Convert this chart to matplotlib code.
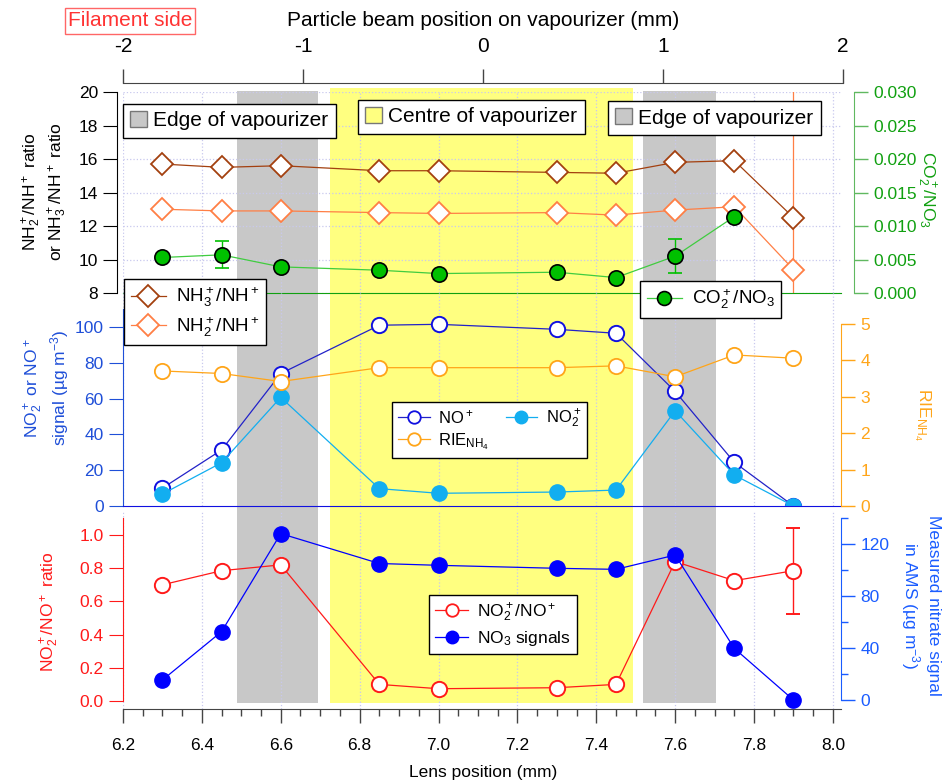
import numpy as np
import matplotlib
matplotlib.use('Agg')
import matplotlib.pyplot as plt
from matplotlib.lines import Line2D
from matplotlib.patches import Patch
from matplotlib.ticker import MultipleLocator

plt.rcParams['font.family'] = ['Liberation Sans', 'DejaVu Sans']
plt.rcParams['mathtext.fontset'] = 'custom'
plt.rcParams['mathtext.rm'] = 'Liberation Sans'
plt.rcParams['mathtext.it'] = 'Liberation Sans:italic'
plt.rcParams['mathtext.bf'] = 'Liberation Sans:bold'
plt.rcParams['axes.unicode_minus'] = False

# lens positions (mm)
lens_pos = [6.3, 6.45, 6.6, 6.85, 7.0, 7.3, 7.45, 7.6, 7.75, 7.9]

# top panel: ammonium fragment ratios and CO2+/NO3
nh3_ratio = [15.7, 15.5, 15.6, 15.3, 15.3, 15.2, 15.15, 15.8, 15.9, 12.5]
nh3_err = [0.2, 0, 0, 0, 0, 0, 0, 0, 0.2, 0]
nh2_ratio = [13.0, 12.9, 12.9, 12.8, 12.75, 12.8, 12.65, 12.95, 13.15, 9.4]
nh2_err = [0.3, 0, 0, 0, 0, 0, 0, 0, 0, 15]
co2_ratio = [0.0053, 0.0057, 0.0039, 0.0034, 0.0029, 0.0031, 0.0023, 0.0055, 0.0114, np.nan]
co2_err = [0, 0.002, 0, 0, 0, 0, 0, 0.0025, 0, 0]

# middle panel: NO+ / NO2+ signals and RIE of ammonium
no_signal = [10, 31.3, 74, 101, 101.5, 98.7, 96.5, 64, 24.4, 0]
no2_signal = [6.7, 24.2, 60.7, 9.7, 7.1, 7.8, 8.9, 53.2, 17.3, 0]
rie_nh4 = [3.71, 3.64, 3.42, 3.80, 3.80, 3.80, 3.85, 3.55, 4.15, 4.06]

# bottom panel: NO2+/NO+ ratio and total nitrate
no2_no_ratio = [0.70, 0.785, 0.82, 0.10, 0.074, 0.08, 0.10, 0.84, 0.725, 0.785]
no2_no_err = [0, 0, 0, 0, 0, 0, 0, 0, 0, 0.26]
no3_signal = [15.4, 52.6, 128, 105, 103.6, 101.3, 100.5, 111.5, 39.7, 0]

# vapourizer zones in lens position (mm)
edge_left = (6.49, 6.695)
centre = (6.725, 7.493)
edge_right = (7.518, 7.703)

beam_ticks = [-2, -1, 0, 1, 2]

W, H = 943, 784
def fx(x):
    return x / W
def fy(y):
    return 1 - y / H

X0, X1 = 123, 841
xlim = (6.2, 6.2 + (X1 - X0) / 394.4)
aw = (X1 - X0) / W

GRAY = '#c8c8c8'
YELLOW = '#ffff80'
GRID = '#c8c8ee'
BROWN = '#a3400f'
SALMON = '#ff7f45'
GREEN_FILL = '#00c000'
GREEN_LINE = '#40cc40'
GREEN_AX = '#10a010'
NO_BLUE = '#1010e0'
CYAN = '#12aef0'
RIE_OR = '#ffa519'
RED = '#ff1a1a'
NO3_BLUE = '#0000ff'
MID_BLUE = '#1f4fd8'
RIGHT_BLUE = '#1a5cff'

FS = 12.5

fig = plt.figure(figsize=(W / 100, H / 100), dpi=100)

# shaded zones behind all panels
bg = fig.add_axes([fx(X0), fy(703), aw, (703 - 88) / H])
bg.set_xlim(xlim)
bg.set_ylim(0, 1)
bg.axis('off')
bg.axvspan(*centre, color=YELLOW, lw=0)
bg.axvspan(*edge_left, ymax=(703 - 91) / (703 - 88), color=GRAY, lw=0)
bg.axvspan(*edge_right, ymax=(703 - 91) / (703 - 88), color=GRAY, lw=0)


def base_axes(rect):
    ax = fig.add_axes(rect)
    ax.patch.set_visible(False)
    ax.set_xlim(xlim)
    ax.xaxis.set_major_locator(MultipleLocator(0.2))
    ax.xaxis.set_minor_locator(MultipleLocator(0.05))
    ax.grid(axis='x', which='major', color=GRID, ls=':', lw=0.9)
    ax.spines['top'].set_visible(False)
    ax.spines['right'].set_visible(False)
    return ax


def twin_right(ax, color, outward=0):
    tw = ax.twinx()
    tw.set_xlim(xlim)
    for s in ['top', 'left', 'bottom']:
        tw.spines[s].set_visible(False)
    tw.spines['right'].set_color(color)
    tw.spines['right'].set_position(('outward', outward))
    tw.tick_params(axis='y', which='major', colors=color, length=10, width=1,
                   labelsize=FS, pad=4)
    tw.tick_params(axis='y', which='minor', colors=color, length=5, width=1)
    return tw


# ---- top panel ----
ax1 = base_axes([fx(X0), fy(293), aw, (293 - 92) / H])
ax1.set_ylim(8, 20)
ax1.yaxis.set_major_locator(MultipleLocator(2))
ax1.grid(axis='y', color=GRID, ls=':', lw=0.9)
ax1.tick_params(axis='x', which='both', bottom=False, labelbottom=False)
ax1.tick_params(axis='y', length=10, labelsize=FS, pad=4)
ax1.spines['left'].set_position(('outward', 4))
ax1.spines['bottom'].set_color('#10a010')
ax1.errorbar(lens_pos, nh3_ratio, yerr=nh3_err, color=BROWN, lw=0.9, marker='D',
             ms=11, mfc='white', mec=BROWN, mew=1.3, capsize=4, elinewidth=0.9)
ax1.errorbar(lens_pos, nh2_ratio, yerr=nh2_err, color=SALMON, lw=0.9, marker='D',
             ms=11, mfc='white', mec=SALMON, mew=1.3, capsize=4, elinewidth=0.9)

ax1r = twin_right(ax1, GREEN_AX, outward=9)
ax1r.spines['right'].set_color('#60b860')
ax1r.set_ylim(0, 0.030)
ax1r.yaxis.set_major_locator(MultipleLocator(0.005))
ax1r.yaxis.set_major_formatter(matplotlib.ticker.FormatStrFormatter('%.3f'))
ax1r.tick_params(axis='y', color='#60b860')
ax1r.errorbar(lens_pos, co2_ratio, yerr=co2_err, color=GREEN_LINE, lw=0.9,
              marker='o', ms=11, mfc=GREEN_FILL, mec='black', mew=1.2,
              ecolor=GREEN_FILL, capsize=5, elinewidth=1)

# ---- middle panel ----
ax2 = base_axes([fx(X0), fy(506), aw, (506 - 293) / H])
ax2.set_ylim(0, 213 / 1.79)
ax2.set_yticks([0, 20, 40, 60, 80, 100])
ax2.spines['left'].set_bounds(0, 110)
ax2.spines['left'].set_color(MID_BLUE)
ax2.spines['bottom'].set_color(NO_BLUE)
ax2.tick_params(axis='x', which='both', bottom=False, labelbottom=False)
ax2.tick_params(axis='y', length=10, labelsize=FS, pad=4, colors=MID_BLUE)
ax2.plot(lens_pos, no_signal, color='#2222c8', lw=0.9, marker='o', ms=11,
         mfc='white', mec=NO_BLUE, mew=1.4)
ax2.plot(lens_pos, no2_signal, color=CYAN, lw=0.9, marker='o', ms=11,
         mfc=CYAN, mec=CYAN, mew=1)

ax2r = twin_right(ax2, RIE_OR)
ax2r.set_ylim(0, 213 / 36.4)
ax2r.set_yticks([0, 1, 2, 3, 4, 5])
ax2r.spines['right'].set_bounds(0, 5)
ax2r.plot(lens_pos, rie_nh4, color=RIE_OR, lw=0.9, marker='o', ms=11,
          mfc='white', mec=RIE_OR, mew=1.3)

# ---- bottom panel ----
ax3 = base_axes([fx(X0), fy(709), aw, (709 - 512) / H])
ax3.set_ylim(-8 / 166, 189 / 166)
ax3.set_yticks([0.0, 0.2, 0.4, 0.6, 0.8, 1.0])
ax3.yaxis.set_major_formatter(matplotlib.ticker.FormatStrFormatter('%.1f'))
ax3.spines['left'].set_bounds(0, 1.1)
ax3.spines['left'].set_color(RED)
ax3.tick_params(axis='y', length=10, labelsize=FS, pad=4, colors=RED)
ax3.tick_params(axis='x', which='major', length=10, width=1, labelsize=FS, pad=11,
                color='#444444')
ax3.tick_params(axis='x', which='minor', length=5, width=1, color='#444444')
ax3.spines['bottom'].set_color('#444444')
ax3.xaxis.set_major_formatter(matplotlib.ticker.FormatStrFormatter('%.1f'))
ax3.errorbar(lens_pos, no2_no_ratio, yerr=no2_no_err, color=RED, lw=0.9,
             marker='o', ms=11, mfc='white', mec=RED, mew=1.4, capsize=5,
             elinewidth=1)

ax3r = twin_right(ax3, RIGHT_BLUE)
ax3r.set_ylim(-9 / 1.3, 188 / 1.3)
ax3r.set_yticks([0, 40, 80, 120])
ax3r.yaxis.set_minor_locator(MultipleLocator(20))
ax3r.spines['right'].set_bounds(0, 140)
ax3r.plot(lens_pos, no3_signal, color=NO3_BLUE, lw=0.9, marker='o', ms=11,
          mfc=NO3_BLUE, mec=NO3_BLUE)

fig.text(fx(483), fy(773), 'Lens position (mm)', fontsize=FS,
         ha='center', va='center')

# ---- top beam position axis ----
axt = fig.add_axes([fx(123), fy(83), (843 - 123) / W, 0.0005])
axt.patch.set_visible(False)
axt.set_xlim(-2, 2)
axt.set_xticks(beam_ticks)
axt.set_yticks([])
for s in ['top', 'left', 'right']:
    axt.spines[s].set_visible(False)
axt.spines['bottom'].set_color('#444444')
axt.tick_params(axis='x', bottom=True, top=False, direction='in', length=10,
                width=1, color='#444444', labelbottom=False, labeltop=True,
                labelsize=15, pad=19)
fig.text(fx(483), fy(20), 'Particle beam position on vapourizer (mm)',
         fontsize=15, ha='center', va='center')
fig.text(fx(130), fy(21), 'Filament side', fontsize=15, color='#ff3333',
         ha='center', va='center',
         bbox=dict(boxstyle='square,pad=0.15', fc='white', ec='#ff6666', lw=1))

# ---- axis titles ----
fig.text(fx(45), fy(192), 'NH$_2^+$/NH$^+$ ratio\nor NH$_3^+$/NH$^+$ ratio',
         rotation=90, fontsize=FS, ha='center', va='center', multialignment='center')
fig.text(fx(47), fy(388), 'NO$_2^+$ or NO$^+$\nsignal (µg m$^{-3}$)',
         rotation=90, fontsize=FS, ha='center', va='center', color=MID_BLUE,
         multialignment='center')
fig.text(fx(50), fy(612), 'NO$_2^+$/NO$^+$ ratio', rotation=90, fontsize=FS,
         ha='center', va='center', color=RED)
fig.text(fx(926), fy(190), 'CO$_2^+$/NO$_3$', rotation=-90, fontsize=FS,
         ha='center', va='center', color=GREEN_AX)
fig.text(fx(922), fy(415), 'RIE$_{\\mathrm{NH_4}}$', rotation=-90, fontsize=FS,
         ha='center', va='center', color=RIE_OR)
fig.text(fx(920), fy(605), 'Measured nitrate signal\nin AMS (µg m$^{-3}$)',
         rotation=-90, fontsize=FS, ha='center', va='center', color=RIGHT_BLUE,
         multialignment='center')

# ---- legends ----
def legend(handles, labels, anchor, fs, **kw):
    opts = dict(loc='upper left', bbox_to_anchor=(fx(anchor[0]), fy(anchor[1])),
                bbox_transform=fig.transFigure, fontsize=fs, frameon=True,
                fancybox=False, framealpha=1, edgecolor='black',
                borderaxespad=0, borderpad=0.35, handletextpad=0.5,
                labelspacing=0.3, handlelength=1.9)
    opts.update(kw)
    leg = fig.legend(handles, labels, **opts)
    leg.get_frame().set_linewidth(1)
    return leg

zone_kw = dict(handlelength=0.8, handleheight=0.8, handletextpad=0.3)
legend([Patch(fc=GRAY, ec='#777777')], ['Edge of vapourizer'], (123, 104), 15, **zone_kw)
legend([Patch(fc=YELLOW, ec='#777777')], ['Centre of vapourizer'], (358, 100), 15, **zone_kw)
legend([Patch(fc=GRAY, ec='#777777')], ['Edge of vapourizer'], (608, 101), 15, **zone_kw)

legend([Line2D([], [], color=BROWN, lw=0.9, marker='D', ms=11, mfc='white', mec=BROWN, mew=1.3),
        Line2D([], [], color=SALMON, lw=0.9, marker='D', ms=11, mfc='white', mec=SALMON, mew=1.3)],
       ['NH$_3^+$/NH$^+$', 'NH$_2^+$/NH$^+$'], (124, 279), 13.5)
legend([Line2D([], [], color=GREEN_LINE, lw=0.9, marker='o', ms=10, mfc=GREEN_FILL, mec='black', mew=1.2)],
       ['CO$_2^+$/NO$_3$'], (640, 281), 13.5)
legend([Line2D([], [], color='#2222c8', lw=0.9, marker='o', ms=9, mfc='white', mec=NO_BLUE, mew=1.3),
        Line2D([], [], color=RIE_OR, lw=0.9, marker='o', ms=9, mfc='white', mec=RIE_OR, mew=1.3),
        Line2D([], [], color=CYAN, lw=0.9, marker='o', ms=9, mfc=CYAN, mec=CYAN)],
       ['NO$^+$', 'RIE$_{\\mathrm{NH_4}}$', 'NO$_2^+$'], (392, 402), 12, ncol=2,
       columnspacing=1.0)
legend([Line2D([], [], color=RED, lw=0.9, marker='o', ms=9, mfc='white', mec=RED, mew=1.3),
        Line2D([], [], color=NO3_BLUE, lw=0.9, marker='o', ms=9, mfc=NO3_BLUE, mec=NO3_BLUE)],
       ['NO$_2^+$/NO$^+$', 'NO$_3$ signals'], (429, 595), 12.5)

fig.savefig('out.png', dpi=100)
